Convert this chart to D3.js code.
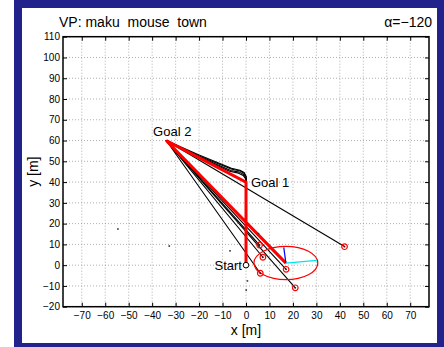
<!DOCTYPE html>
<html><head><meta charset="utf-8">
<script src="https://cdn.jsdelivr.net/npm/d3@7"></script>
<style>body{margin:0;background:#fff}svg{display:block;font-family:"Liberation Sans",Arial,Helvetica,sans-serif}</style>
</head><body><svg id="chart" width="444" height="347"></svg>
<script>
// Axis ticks
const xTicks = d3.range(-70, 71, 10);
const yTicks = d3.range(-20, 111, 10);

// Waypoints of the route
const waypoints = [
  {name: "Start",  x: 0,   y: 0},
  {name: "Goal 1", x: 0,   y: 40},
  {name: "Goal 2", x: -34, y: 60}
];

// Planned route: Start -> Goal 1 -> Goal 2 -> back
const plannedPath = [[0, 0], [0, 40], [-34, 60], [17, 1]];

// Driven runs: leave Goal 1, reach Goal 2, head home
const runA = [[0.2, 40], [0.1, 42.4], [-0.7, 44.1], [-2.4, 45.3], [-6.0, 46.2], [-20, 52.6], [-34, 60], [5.8, 9.7]];
const runB = [[0.1, 40], [-0.1, 42.0], [-1.0, 43.7], [-2.8, 44.8], [-6.5, 45.6], [-20, 52.2], [-34, 60], [7.2, 3.8]];
const runC = [[0.0, 40], [-0.2, 41.6], [-1.2, 43.2], [-3.2, 44.3], [-7.0, 45.2], [-20, 51.9], [-34, 60], [6.1, -3.9]];
const runD = [[0.2, 40], [0.0, 42.8], [-0.8, 44.6], [-2.6, 45.7], [-6.2, 46.7], [-20, 53.0], [-34, 60], [17.1, -2.0]];
const runE = [[-34, 60], [42, 9]];
const runF = [[-34, 60], [21.0, -10.9]];
const runs = [runA, runB, runC, runD, runE, runF];

// Final positions of the runs
const endX = [5.8, 7.2, 6.1, 17.1, 21.0, 42.0];
const endY = [9.7, 3.8, -3.9, -2.0, -10.9, 8.9];

// Stray range readings
const strayX = [-54.6, -32.7, -6.8, 5.3, 0.6, 0.1];
const strayY = [17.4, 9.2, 6.9, 15.2, -7.6, -12.0];

// Position uncertainty of the mean end point
const ellipseCenter = [17, 1];
const ellipseRadii = [13.6, 8.0];
const headingTip = [16.1, 8.6];
const sideTip = [30.2, 2.3];

const svg = d3.select("#chart");
const W = 444, H = 347;

// Page frame
svg.append("rect").attr("x", 14).attr("y", 0).attr("width", W - 14).attr("height", H).attr("fill", "#22228c");
svg.append("rect").attr("x", 22).attr("y", 8).attr("width", 437 - 22).attr("height", 343 - 8).attr("fill", "#fff");

const L = 63, R = 429, T = 36.7, B = 306.7;
const x = d3.scaleLinear().domain([-78, 78]).range([L, R]);
const y = d3.scaleLinear().domain([-20, 110]).range([B, T]);

const plot = svg.append("g");

// Grid
plot.append("g").selectAll("line").data(xTicks).join("line")
  .attr("x1", d => x(d)).attr("x2", d => x(d)).attr("y1", T).attr("y2", B)
  .attr("stroke", "#9a9a9a").attr("stroke-width", 0.8).attr("stroke-dasharray", "1,2");
plot.append("g").selectAll("line").data(yTicks).join("line")
  .attr("x1", L).attr("x2", R).attr("y1", d => y(d)).attr("y2", d => y(d))
  .attr("stroke", "#9a9a9a").attr("stroke-width", 0.8).attr("stroke-dasharray", "1,2");

// Axes with inward ticks
const fmt = d => d < 0 ? "\u2212" + Math.abs(d) : d;
const axB = d3.axisBottom(x).tickValues(xTicks).tickSizeInner(-4).tickSizeOuter(0).tickPadding(5.5).tickFormat(fmt);
const axL = d3.axisLeft(y).tickValues(yTicks).tickSizeInner(-4).tickSizeOuter(0).tickPadding(3).tickFormat(fmt);
const axT = d3.axisTop(x).tickValues(xTicks).tickSizeInner(-4).tickSizeOuter(0).tickFormat("");
const axR = d3.axisRight(y).tickValues(yTicks).tickSizeInner(-4).tickSizeOuter(0).tickFormat("");

function styleAxis(g) {
  g.select(".domain").remove();
  g.selectAll(".tick line").attr("stroke", "#000").attr("stroke-width", 1);
  g.selectAll("text").attr("font-size", 10).attr("fill", "#000")
    .attr("font-family", "'Liberation Sans', Arial, sans-serif");
}
svg.append("g").attr("transform", `translate(0,${B})`).call(axB).call(styleAxis);
svg.append("g").attr("transform", `translate(${L},0)`).call(axL).call(styleAxis);
svg.append("g").attr("transform", `translate(0,${T})`).call(axT).call(styleAxis);
svg.append("g").attr("transform", `translate(${R},0)`).call(axR).call(styleAxis);

const line = d3.line().x(d => x(d[0])).y(d => y(d[1]));

// Driven runs
plot.append("g").selectAll("path").data(runs).join("path")
  .attr("d", line).attr("fill", "none").attr("stroke", "#000").attr("stroke-width", 1.1)
  .attr("stroke-linejoin", "round");

// Planned route
plot.append("path").datum(plannedPath).attr("d", line)
  .attr("fill", "none").attr("stroke", "#ff0000").attr("stroke-width", 3).attr("stroke-linejoin", "miter");

// Uncertainty ellipse and heading lines
plot.append("ellipse")
  .attr("cx", x(ellipseCenter[0])).attr("cy", y(ellipseCenter[1]))
  .attr("rx", x(ellipseCenter[0] + ellipseRadii[0]) - x(ellipseCenter[0]))
  .attr("ry", y(ellipseCenter[1]) - y(ellipseCenter[1] + ellipseRadii[1]))
  .attr("fill", "none").attr("stroke", "#ff0000").attr("stroke-width", 1.2);
plot.append("path").datum([ellipseCenter, headingTip]).attr("d", line)
  .attr("stroke", "#0000ff").attr("stroke-width", 1.2);
plot.append("path").datum([ellipseCenter, sideTip]).attr("d", line)
  .attr("stroke", "#00e5ee").attr("stroke-width", 1.4);

// End markers
const ends = endX.map((d, i) => [d, endY[i]]);
const endG = plot.append("g").selectAll("g").data(ends).join("g")
  .attr("transform", d => `translate(${x(d[0])},${y(d[1])})`);
endG.append("circle").attr("r", 2.8).attr("fill", "none").attr("stroke", "#ff0000").attr("stroke-width", 1.2);
endG.append("circle").attr("r", 0.9).attr("fill", "#600");

// Stray readings
const strays = strayX.map((d, i) => [d, strayY[i]]);
plot.append("g").selectAll("rect").data(strays).join("rect")
  .attr("x", d => x(d[0]) - 0.8).attr("y", d => y(d[1]) - 0.8)
  .attr("width", 1.6).attr("height", 1.6).attr("fill", "#333");

// Start marker
plot.append("circle").attr("cx", x(0)).attr("cy", y(0)).attr("r", 2.8)
  .attr("fill", "#fff").attr("stroke", "#000").attr("stroke-width", 1);

// Waypoint labels
const lab = plot.append("g").attr("font-size", 13).attr("fill", "#000");
lab.append("text").attr("x", x(waypoints[0].x) - 4).attr("y", y(waypoints[0].y)).attr("dy", "0.35em")
  .attr("text-anchor", "end").text(waypoints[0].name);
lab.append("text").attr("x", x(waypoints[1].x) + 5).attr("y", y(waypoints[1].y)).attr("dy", "0.35em")
  .text(waypoints[1].name);
lab.append("text").attr("x", x(waypoints[2].x) + 6).attr("y", y(waypoints[2].y) - 5)
  .attr("text-anchor", "middle").text(waypoints[2].name);

// Frame
svg.append("rect").attr("x", L).attr("y", T).attr("width", R - L).attr("height", B - T)
  .attr("fill", "none").attr("stroke", "#000").attr("stroke-width", 1.5);

// Titles
svg.append("text").attr("x", 59).attr("y", 27).attr("font-size", 14).text("VP: maku  mouse  town")
  .style("white-space", "pre");
svg.append("text").attr("x", 432).attr("y", 27).attr("font-size", 14).attr("text-anchor", "end").text("\u03b1=\u2212120");
svg.append("text").attr("x", (L + R) / 2).attr("y", 335).attr("font-size", 14).attr("text-anchor", "middle").text("x [m]");
svg.append("text").attr("transform", `translate(38,${(T + B) / 2}) rotate(-90)`)
  .attr("font-size", 14).attr("text-anchor", "middle").text("y [m]");
</script></body></html>
